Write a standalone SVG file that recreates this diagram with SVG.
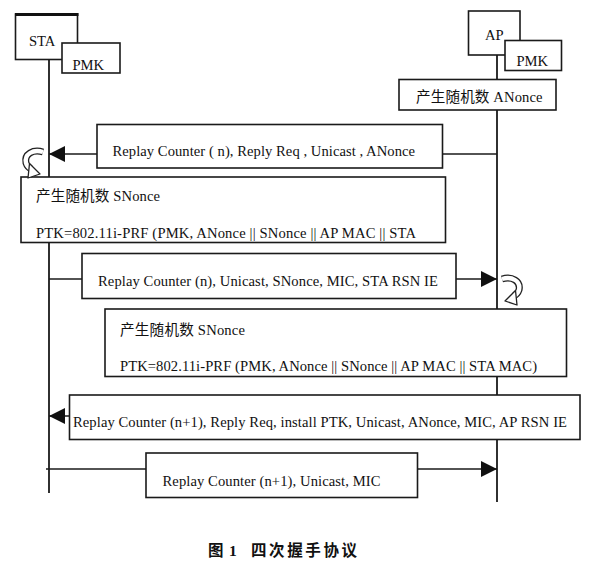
<svg xmlns="http://www.w3.org/2000/svg" width="590" height="577" viewBox="0 0 590 577">
<style>
  text { font-family: "Liberation Serif", "Noto Sans CJK SC", serif; font-size: 14.6px; fill: #111; }
  .box { fill: #fff; stroke: #1a1a1a; stroke-width: 1.6; }
  .line { stroke: #1a1a1a; stroke-width: 1.6; fill: none; }
  .life { stroke: #1a1a1a; stroke-width: 1.8; fill: none; }
  .curlOut { stroke: #222; stroke-width: 7; fill: none; stroke-linecap: butt; }
  .curlIn { stroke: #fff; stroke-width: 4.4; fill: none; stroke-linecap: butt; }
  .caption { font-weight: bold; font-size: 15.5px; }
</style>
<defs>
  <marker id="arrow" markerUnits="userSpaceOnUse" markerWidth="17" markerHeight="16" refX="16" refY="8" orient="auto">
    <path d="M0,0 L16,8 L0,16 z" fill="#111"/>
  </marker>
  <g id="curl">
    <path class="curlOut" d="M43,152 C33,149 24,154 26,163 C27,166 29,168 31,169"/>
    <path class="curlIn" d="M43,152 C33,149 24,154 26,163 C27,166 29,168 31,169"/>
    <polygon points="29.5,163.5 40,174 28,178" fill="#fff" stroke="#222" stroke-width="1.3" stroke-linejoin="round"/>
  </g>
</defs>
<rect width="590" height="577" fill="#fff"/>

<g id="connectors">
  <line class="life" x1="49" y1="59" x2="49" y2="493"/>
  <line class="life" x1="497" y1="55" x2="497" y2="502"/>
  <line class="line" x1="497" y1="154" x2="49" y2="154" marker-end="url(#arrow)"/>
  <line class="line" x1="49" y1="279" x2="497" y2="279" marker-end="url(#arrow)"/>
  <line class="line" x1="497" y1="416" x2="49" y2="416" marker-end="url(#arrow)"/>
  <line class="line" x1="46" y1="469" x2="497" y2="469" marker-end="url(#arrow)"/>
</g>

<g id="sta">
  <rect class="box" x="15.5" y="14" width="62" height="45.5"/>
  <line x1="15" y1="14.5" x2="78.5" y2="14.5" stroke="#111" stroke-width="3"/>
  <text x="29" y="46">STA</text>
</g>
<g id="sta-pmk">
  <rect class="box" x="62" y="43" width="58" height="30"/>
  <text x="72.5" y="70">PMK</text>
</g>

<g id="ap">
  <rect class="box" x="468.5" y="11" width="51.5" height="44"/>
  <text x="485" y="39.5">AP</text>
</g>
<g id="ap-pmk">
  <rect class="box" x="505" y="40.5" width="56.5" height="30"/>
  <text x="516.5" y="66">PMK</text>
</g>

<g id="ap-anonce">
  <rect class="box" x="399" y="79.5" width="157" height="30.5"/>
  <text x="416" y="101.5" textLength="126.5" lengthAdjust="spacing">产生随机数 ANonce</text>
</g>

<g id="msg1">
  <rect class="box" x="97" y="124.5" width="345.5" height="43.5"/>
  <text x="112.5" y="155.5" textLength="302.5" lengthAdjust="spacing">Replay Counter ( n), Reply Req , Unicast , ANonce</text>
</g>

<g id="sta-ptk">
  <rect class="box" x="21" y="177" width="424.5" height="65.5" stroke-width="2"/>
  <text x="36" y="201" textLength="124" lengthAdjust="spacing">产生随机数 SNonce</text>
  <text x="36" y="237.5" textLength="380" lengthAdjust="spacing">PTK=802.11i-PRF (PMK, ANonce || SNonce || AP MAC || STA</text>
</g>

<g id="msg2">
  <rect class="box" x="82" y="253.5" width="374" height="45" stroke-width="2"/>
  <text x="98" y="285.5" textLength="340" lengthAdjust="spacing">Replay Counter (n), Unicast, SNonce, MIC, STA RSN IE</text>
</g>

<g id="ap-ptk">
  <rect class="box" x="105" y="309" width="461.5" height="67.5"/>
  <text x="120" y="334.5" textLength="125" lengthAdjust="spacing">产生随机数 SNonce</text>
  <text x="120" y="371" textLength="417" lengthAdjust="spacing">PTK=802.11i-PRF (PMK, ANonce || SNonce || AP MAC || STA MAC)</text>
</g>

<g id="msg3">
  <rect class="box" x="69.5" y="395" width="510.5" height="44.5"/>
  <text x="73" y="427" textLength="494" lengthAdjust="spacing">Replay Counter (n+1), Reply Req, install PTK, Unicast, ANonce, MIC, AP RSN IE</text>
</g>

<g id="msg4">
  <rect class="box" x="146" y="453" width="271.5" height="44.5"/>
  <text x="162.5" y="486" textLength="218" lengthAdjust="spacing">Replay Counter (n+1), Unicast, MIC</text>
</g>

<g id="curls">
  <use href="#curl"/>
  <use href="#curl" transform="translate(545,127) scale(-1,1)"/>
</g>

<g id="caption">
  <text class="caption" y="556"><tspan x="208">图</tspan><tspan x="229">1</tspan><tspan x="251" letter-spacing="2.6">四次握手协议</tspan></text>
</g>
</svg>
